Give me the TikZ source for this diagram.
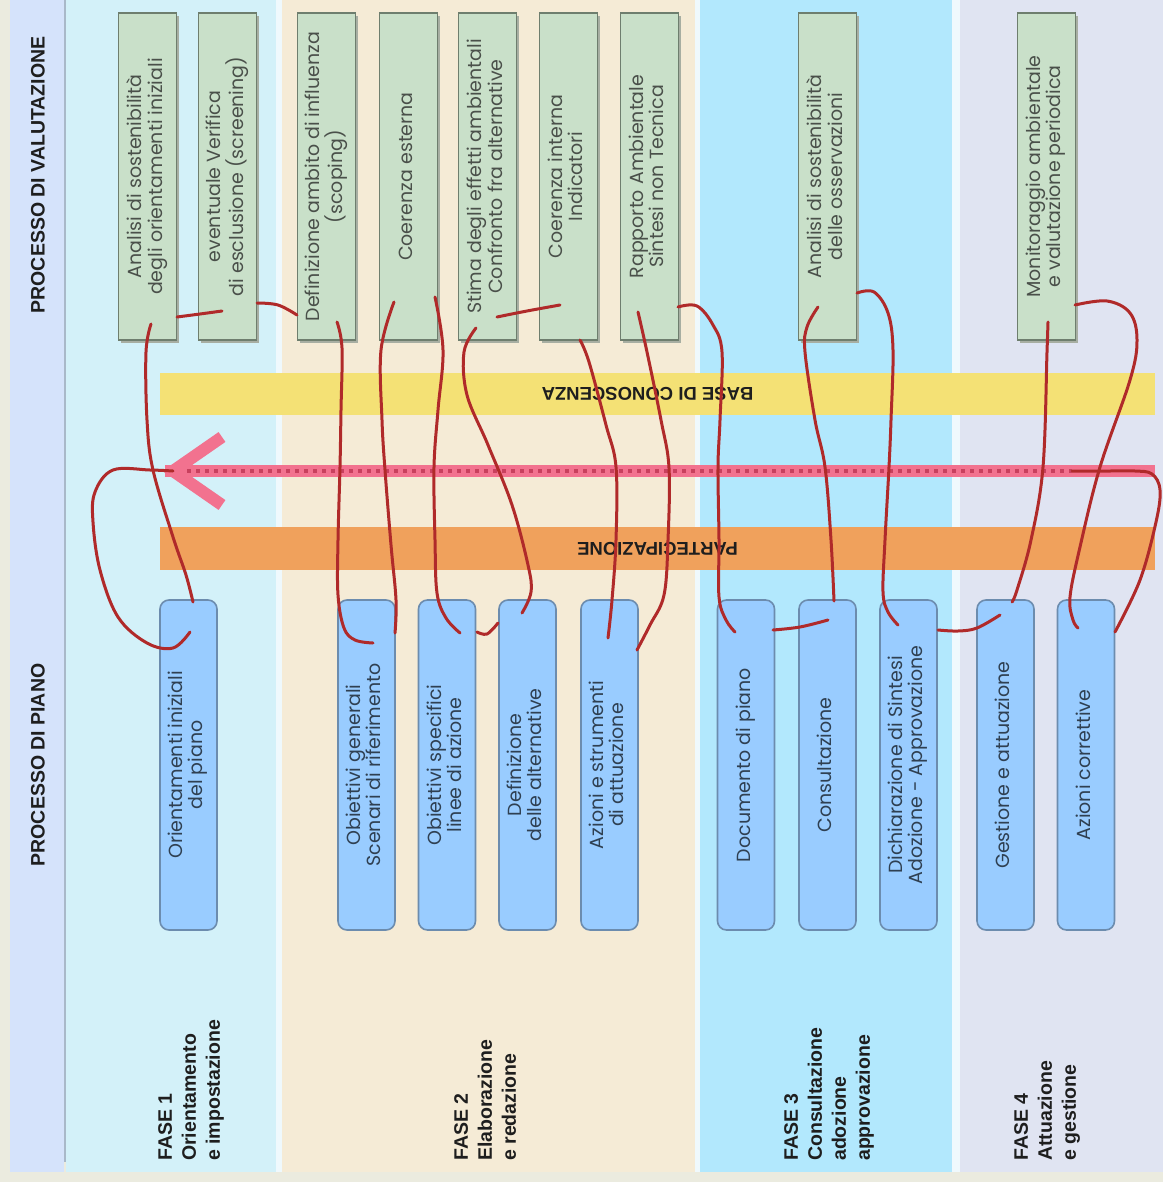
\documentclass[tikz,border=0pt]{standalone}
\usepackage{fontspec}
\setmainfont{Liberation Sans}
\newfontfamily\boxfont{Poppins}
\usepackage{graphicx}
\usetikzlibrary{shadows}

\definecolor{pagebg}{HTML}{EBEBDF}
\definecolor{leftc}{HTML}{D5E3FB}
\definecolor{greyline}{HTML}{A9B9C9}
\definecolor{phaseone}{HTML}{D3F1F9}
\definecolor{gapc}{HTML}{EFF9FD}
\definecolor{phasetwo}{HTML}{F5EBD6}
\definecolor{phasethree}{HTML}{B2E8FD}
\definecolor{phasefour}{HTML}{E0E4F2}
\definecolor{gfill}{HTML}{C9E0C9}
\definecolor{gborder}{HTML}{6E7E6E}
\definecolor{gshadow}{HTML}{A7AEA2}
\definecolor{gtext}{HTML}{4A504A}
\definecolor{bfill}{HTML}{99CCFF}
\definecolor{bborder}{HTML}{6C8CAE}
\definecolor{btext}{HTML}{2F4052}
\definecolor{yellowc}{HTML}{F4E175}
\definecolor{orangec}{HTML}{F0A15C}
\definecolor{pinkc}{HTML}{F2728F}
\definecolor{pinkdot}{HTML}{C8405E}
\definecolor{redc}{HTML}{B02A2A}
\definecolor{labeltext}{HTML}{1E1E1E}

\newcommand\vctext[1]{\rotatebox{90}{\begin{tabular}{@{}c@{}}#1\end{tabular}}}
\newcommand\vltext[1]{\rotatebox{90}{\begin{tabular}{@{}l@{}}#1\end{tabular}}}

\begin{document}
\begin{tikzpicture}[x=1pt,y=-1pt,
  gbox/.style={draw=gborder, fill=gfill, line width=1.6pt, minimum width=58pt,
    minimum height=327pt, inner sep=0pt, text=gtext,
    font={\boxfont\fontsize{19}{19.5}\selectfont},
    drop shadow={shadow xshift=2pt, shadow yshift=-3pt, fill=gshadow, opacity=1}},
  bbox/.style={draw=bborder, fill=bfill, line width=1.6pt, rounded corners=9pt,
    minimum width=57pt, minimum height=330pt, inner sep=0pt, text=btext,
    font={\boxfont\fontsize{19}{19.5}\selectfont}},
  band/.style={minimum width=995pt, inner sep=0pt, text=labeltext,
    font={\bfseries\fontsize{18.5}{20}\selectfont}},
  lanelabel/.style={inner sep=0pt, text=labeltext,
    font={\bfseries\fontsize{19.5}{20}\selectfont}},
  phaselabel/.style={inner sep=0pt, text=labeltext, anchor=south,
    font={\bfseries\fontsize{19.5}{24}\selectfont}},
  redline/.style={draw=redc, line width=3pt, line cap=round, line join=round},
  smoothplot/.style={smooth, tension=0.6}
]
\useasboundingbox (0,0) rectangle (1163,1182);
% backgrounds
\fill[pagebg] (0,0) rectangle (1163,1182);
\fill[leftc] (10,0) rectangle (64,1172);
\fill[phaseone] (66,0) rectangle (276,1172);
\fill[gapc] (276,0) rectangle (282,1172);
\fill[phasetwo] (282,0) rectangle (695,1172);
\fill[gapc] (695,0) rectangle (700,1172);
\fill[phasethree] (700,0) rectangle (952,1172);
\fill[gapc] (952,0) rectangle (960,1172);
\fill[phasefour] (960,0) rectangle (1163,1172);
\draw[greyline, line width=2pt] (65,0) -- (65,1162);

% lane labels
\node[lanelabel] (pv) at (38,175) {\rotatebox{90}{PROCESSO DI VALUTAZIONE}};
\node[lanelabel] (pp) at (38,765) {\rotatebox{90}{PROCESSO DI PIANO}};

% phase labels
\node[phaselabel] (f1) at (191,1161) {\vltext{FASE 1\\Orientamento\\e impostazione}};
\node[phaselabel] (f2) at (487,1161) {\vltext{FASE 2\\Elaborazione\\e redazione}};
\node[phaselabel] (f3) at (829,1161) {\vltext{FASE 3\\Consultazione\\adozione\\approvazione}};
\node[phaselabel] (f4) at (1047,1161) {\vltext{FASE 4\\Attuazione\\e gestione}};

% bands
\node[band, fill=yellowc, minimum height=42pt] (base) at (657.5,394) {\rotatebox{180}{\hspace{20pt}BASE DI CONOSCENZA}};
\node[band, fill=orangec, minimum height=43pt] (part) at (657.5,548.5) {\rotatebox{180}{PARTECIPAZIONE}};

% pink feedback arrow
\coordinate (ptip) at (173,471);
\coordinate (pend) at (1155,471);
\draw[pinkc, line width=12pt] (165,471) -- (pend);
\draw[pinkdot, line width=4pt, dash pattern=on 4pt off 5pt] (178,471) -- (1072,471);
\draw[pinkc, line width=12pt, line join=miter] (222,437) -- (ptip) -- (222,505);

% green boxes (valutazione)
\node[gbox] (g1) at (147.5,176.5) {\vctext{Analisi di sostenibilità\\degli orientamenti iniziali}};
\node[gbox] (g2) at (227.5,176.5) {\vctext{eventuale Verifica\\di esclusione (screening)}};
\node[gbox] (g3) at (326.5,176.5) {\vctext{Definizione ambito di influenza\\(scoping)}};
\node[gbox] (g4) at (408.5,176.5) {\vctext{Coerenza esterna}};
\node[gbox] (g5) at (487.5,176.5) {\vctext{Stima degli effetti ambientali\\Confronto fra alternative}};
\node[gbox] (g6) at (568.5,176.5) {\vctext{Coerenza interna\\Indicatori}};
\node[gbox] (g7) at (649.5,176.5) {\vctext{Rapporto Ambientale\\Sintesi non Tecnica}};
\node[gbox] (g8) at (827.5,176.5) {\vctext{Analisi di sostenibilità\\delle osservazioni}};
\node[gbox] (g9) at (1046.5,176.5) {\vctext{Monitoraggio ambientale\\e valutazione periodica}};

% blue boxes (piano)
\node[bbox] (b1) at (188.5,765) {\vctext{Orientamenti iniziali\\del piano}};
\node[bbox] (b2) at (366.5,765) {\vctext{Obiettivi generali\\Scenari di riferimento}};
\node[bbox] (b3) at (447,765) {\vctext{Obiettivi specifici\\linee di azione}};
\node[bbox] (b4) at (527.5,765) {\vctext{Definizione\\delle alternative}};
\node[bbox] (b5) at (609.5,765) {\vctext{Azioni e strumenti\\di attuazione}};
\node[bbox] (b6) at (746,765) {\vctext{Documento di piano}};
\node[bbox] (b7) at (827.5,765) {\vctext{Consultazione}};
\node[bbox] (b8) at (908.5,765) {\vctext{Dichiarazione di Sintesi\\Adozione - Approvazione}};
\node[bbox] (b9) at (1005.5,765) {\vctext{Gestione e attuazione}};
\node[bbox] (b10) at (1086,765) {\vctext{Azioni correttive}};

% connector end points
\coordinate (g1o) at (151,324);   \coordinate (b1i) at (193,602);
\coordinate (b1l) at (190,632);
\coordinate (g1r) at (177,317);   \coordinate (g2i) at (222,311);
\coordinate (g2r) at (257,303);   \coordinate (g3l) at (297,315);
\coordinate (g3o) at (337,322);   \coordinate (b2i) at (373,643);
\coordinate (g4o) at (394,302);   \coordinate (b2r) at (395,633);
\coordinate (g4r) at (435,297);   \coordinate (b3i) at (460,633);
\coordinate (b3r) at (477,632);   \coordinate (b4l) at (498,623);
\coordinate (g5o) at (476,328);   \coordinate (b4i) at (522,613);
\coordinate (g5r) at (497,317);   \coordinate (g6i) at (560,305);
\coordinate (g6o) at (580,340);   \coordinate (b5i) at (608,638);
\coordinate (g7o) at (638,312);   \coordinate (b5r) at (637,650);
\coordinate (g7r) at (678,307);   \coordinate (b6i) at (735,632);
\coordinate (b6r) at (773,630);   \coordinate (b7i) at (828,620);
\coordinate (g8o) at (818,307);   \coordinate (b7t) at (834,601);
\coordinate (g8r) at (857,293);   \coordinate (b8i) at (898,625);
\coordinate (b8r) at (938,630);   \coordinate (b9i) at (1000,615);
\coordinate (g9o) at (1048,322);  \coordinate (b9t) at (1012,602);
\coordinate (g9r) at (1075,305);  \coordinate (b10i) at (1078,628);
\coordinate (b10r) at (1115,632); \coordinate (pdark) at (1072,471);

% red connectors
\draw[redline] plot[smoothplot] coordinates {(g1o) (146,352) (147,420) (153,470) (173,537) (186,575) (b1i)};
\draw[redline] plot[smoothplot] coordinates {(ptip) (150,470) (113,470) (95,492) (93,522) (100,570) (118,617) (147,643) (173,648) (b1l)};
\draw[redline] plot[smoothplot] coordinates {(g1r) (200,314) (g2i)};
\draw[redline] plot[smoothplot] coordinates {(g2r) (278,305) (g3l)};
\draw[redline] plot[smoothplot] coordinates {(g3o) (342,348) (341,410) (340,467) (338,540) (338,595) (344,628) (355,640) (b2i)};
\draw[redline] plot[smoothplot] coordinates {(g4o) (381,350) (382,420) (385,470) (391,545) (396,600) (b2r)};
\draw[redline] plot[smoothplot] coordinates {(g4r) (443,350) (438,410) (434,467) (435,540) (437,593) (446,618) (b3i)};
\draw[redline] plot[smoothplot] coordinates {(b3r) (487,634) (b4l)};
\draw[redline] plot[smoothplot] coordinates {(g5o) (464,352) (467,395) (488,445) (512,505) (528,565) (531,592) (b4i)};
\draw[redline] plot[smoothplot] coordinates {(g5r) (527,311) (g6i)};
\draw[redline] plot[smoothplot] coordinates {(g6o) (589,362) (606,425) (616,467) (616,540) (612,600) (b5i)};
\draw[redline] plot[smoothplot] coordinates {(g7o) (647,352) (661,420) (669,468) (668,540) (664,595) (650,625) (b5r)};
\draw[redline] plot[smoothplot] coordinates {(g7r) (697,306) (713,325) (722,352) (720,420) (718,467) (719,540) (719,597) (726,620) (b6i)};
\draw[redline] plot[smoothplot] coordinates {(b6r) (800,627) (b7i)};
\draw[redline] plot[smoothplot] coordinates {(g8o) (807,327) (805,352) (815,420) (825,467) (831,540) (b7t)};
\draw[redline] plot[smoothplot] coordinates {(g8r) (874,292) (888,313) (893,350) (891,420) (889,467) (885,540) (883,592) (888,612) (b8i)};
\draw[redline] plot[smoothplot] coordinates {(b8r) (958,631) (977,628) (b9i)};
\draw[redline] plot[smoothplot] coordinates {(g9o) (1047,352) (1043,467) (1031,540) (1017,590) (b9t)};
\draw[redline] plot[smoothplot] coordinates {(g9r) (1107,301) (1130,313) (1137,340) (1130,380) (1100,467) (1080,547) (1070,597) (1073,620) (b10i)};
\draw[redline] plot[smoothplot] coordinates {(b10r) (1140,580) (1156,522) (1160,490) (1152,474) (1135,471) (1110,471) (pdark)};
\end{tikzpicture}
\end{document}
